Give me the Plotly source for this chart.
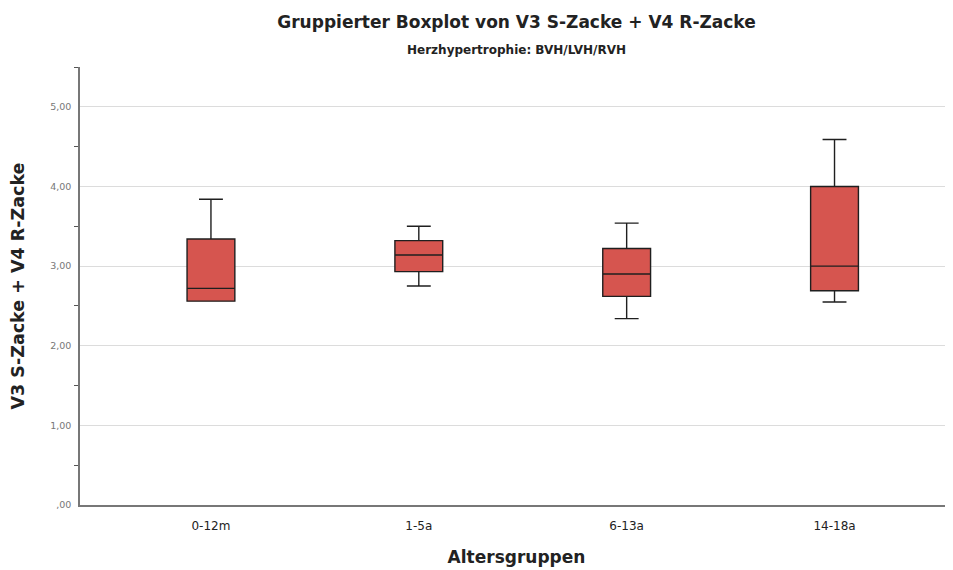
import plotly.graph_objects as go

categories = ["0-12m", "1-5a", "6-13a", "14-18a"]
lower_whisker = [2.56, 2.75, 2.34, 2.55]
q1_values = [2.56, 2.93, 2.62, 2.69]
median_values = [2.72, 3.14, 2.90, 3.00]
q3_values = [3.34, 3.32, 3.22, 4.00]
upper_whisker = [3.84, 3.50, 3.54, 4.59]

y_tick_values = [0, 1, 2, 3, 4, 5]
y_tick_labels = [",00", "1,00", "2,00", "3,00", "4,00", "5,00"]
y_minor_ticks = [0.5, 1.5, 2.5, 3.5, 4.5, 5.5]

W, H = 945, 562

fig = go.Figure()
fig.add_trace(go.Box(
    x=categories,
    q1=q1_values,
    median=median_values,
    q3=q3_values,
    lowerfence=lower_whisker,
    upperfence=upper_whisker,
    fillcolor="#d6554f",
    line=dict(color="#1f1f1f", width=1.4),
    width=0.23,
    whiskerwidth=0.5,
    boxpoints=False,
    showlegend=False,
    hoverinfo="skip",
))

fig.update_layout(
    width=W, height=H,
    margin=dict(l=72, r=0, t=59, b=65),
    paper_bgcolor="white", plot_bgcolor="white",
    font=dict(family="DejaVu Sans", color="#222"),
    title=dict(
        text="<b>Gruppierter Boxplot von V3 S-Zacke + V4 R-Zacke</b>",
        x=0.5, xanchor="center", xref="paper",
        y=1 - 14 / H, yanchor="middle", yref="container",
        font=dict(size=17, color="#222"),
    ),
    annotations=[dict(
        text="<b>Herzhypertrophie: BVH/LVH/RVH</b>",
        xref="paper", x=0.5, xanchor="center",
        yref="paper", y=1 + (59 - 42) / 438, yanchor="middle",
        showarrow=False, font=dict(size=12, color="#222"),
    )],
    xaxis=dict(
        range=[-0.63, 3.57],
        showline=True, linecolor="#777", linewidth=1.5,
        showgrid=False, ticks="",
        ticklabelstandoff=9,
        tickfont=dict(size=12, color="#222"),
        title=dict(text="<b>Altersgruppen</b>", font=dict(size=17, color="#222"), standoff=19),
    ),
    yaxis=dict(
        range=[0, 5.5],
        tickvals=y_tick_values, ticktext=y_tick_labels,
        showline=True, linecolor="#777", linewidth=1.5,
        showgrid=True, gridcolor="#dcdcdc", gridwidth=1,
        ticks="", zeroline=False,
        ticklabelstandoff=5,
        tickfont=dict(size=9.5, color="#777"),
        minor=dict(tickvals=y_minor_ticks, ticks="outside", ticklen=4, tickcolor="#555", showgrid=False),
        title=dict(text="<b>V3 S-Zacke + V4 R-Zacke</b>", font=dict(size=17.5, color="#222"), standoff=27),
    ),
)

fig.write_html("out.html")
